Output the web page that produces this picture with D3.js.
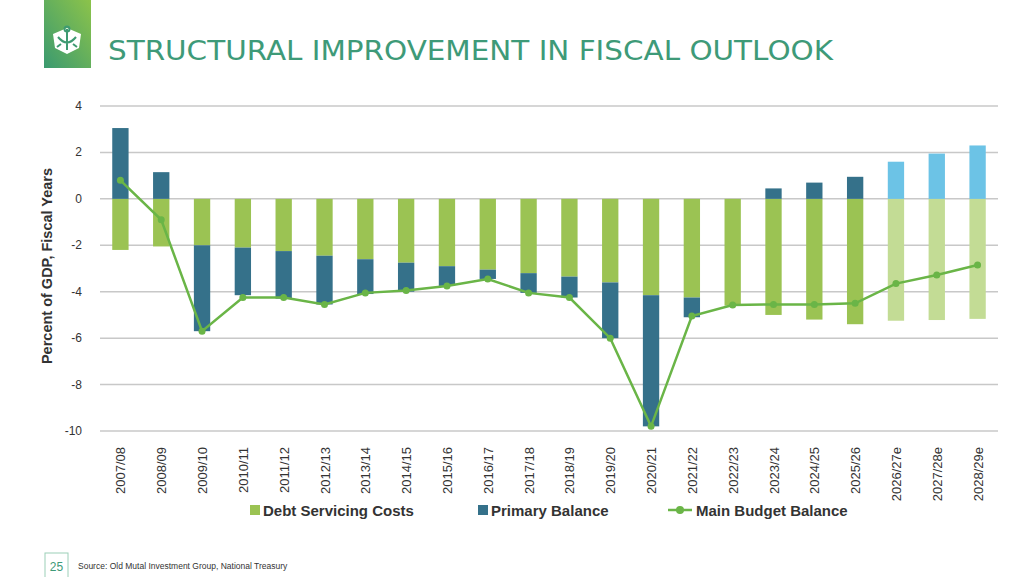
<!DOCTYPE html>
<html><head><meta charset="utf-8">
<script src="https://cdn.jsdelivr.net/npm/d3@7"></script>
<style>body{margin:0;background:#fff}svg{display:block}</style>
</head><body><div id="chart"></div>
<script>
const years = ["2007/08","2008/09","2009/10","2010/11","2011/12","2012/13","2013/14","2014/15","2015/16","2016/17","2017/18","2018/19","2019/20","2020/21","2021/22","2022/23","2023/24","2024/25","2025/26","2026/27e","2027/28e","2028/29e"];
const debtCosts = [-2.2,-2.05,-2.0,-2.1,-2.25,-2.45,-2.6,-2.75,-2.9,-3.05,-3.2,-3.35,-3.6,-4.15,-4.25,-4.6,-5.0,-5.2,-5.4,-5.25,-5.22,-5.17];
const primaryBalance = [3.05,1.15,-3.7,-2.05,-2.05,-2.1,-1.5,-1.25,-0.85,-0.4,-0.85,-0.9,-2.4,-5.65,-0.85,0,0.45,0.7,0.95,1.6,1.95,2.3];
const mainBalance = [0.8,-0.9,-5.7,-4.25,-4.25,-4.55,-4.05,-3.95,-3.75,-3.45,-4.05,-4.25,-6.0,-9.8,-5.05,-4.57,-4.55,-4.55,-4.5,-3.65,-3.28,-2.85];
const yTicks = [4,2,0,-2,-4,-6,-8,-10];
const forecastCount = 3;

const W = 1024, H = 577;
const svg = d3.select("#chart").append("svg").attr("width", W).attr("height", H)
  .style("font-family", "'Liberation Sans', Arial, sans-serif");

// logo block
const grad = svg.append("defs").append("linearGradient").attr("id","lg")
  .attr("x1","0").attr("y1","1").attr("x2","1").attr("y2","0");
grad.append("stop").attr("offset","0").attr("stop-color","#3a9a70");
grad.append("stop").attr("offset","1").attr("stop-color","#8cc34a");
svg.append("rect").attr("x",44).attr("y",0).attr("width",47).attr("height",68).attr("fill","url(#lg)");
const logo = svg.append("g").attr("transform","translate(67,40)");
logo.append("path").attr("d","M-14,-6 L0,-12 L14,-6 L12,8 L0,14 L-12,8 Z").attr("fill","#fff");
logo.append("path").attr("d","M0,-11 L0,10 M-9,-3 Q0,8 9,-3 M-6,4 L-10,7 M6,4 L10,7")
  .attr("fill","none").attr("stroke","#3e9a72").attr("stroke-width",2);
logo.append("circle").attr("cx",0).attr("cy",-11).attr("r",2.5).attr("fill","none").attr("stroke","#3e9a72").attr("stroke-width",2);

svg.append("text").attr("x",108).attr("y",60).attr("fill","#3e9a78")
  .attr("font-family","'DejaVu Sans', sans-serif")
  .attr("font-size",27).attr("textLength",725).attr("lengthAdjust","spacingAndGlyphs")
  .text("STRUCTURAL IMPROVEMENT IN FISCAL OUTLOOK");

const x = d3.scaleBand().domain(years).range([100, 998]).paddingInner(0.6).paddingOuter(0.3);
const y = d3.scaleLinear().domain([-10, 4]).range([431, 106]);

// grid
svg.append("g").selectAll("line").data(yTicks).join("line")
  .attr("x1",100).attr("x2",998).attr("y1",d=>y(d)).attr("y2",d=>y(d))
  .attr("stroke","#c8c8c8").attr("stroke-width",1.5);
svg.append("g").selectAll("text").data(yTicks).join("text")
  .attr("x",82).attr("y",d=>y(d)+4).attr("text-anchor","end")
  .attr("font-size",12).attr("fill","#333").text(d=>d);

svg.append("text").attr("transform","translate(52,266) rotate(-90)")
  .attr("text-anchor","middle").attr("font-size",14.5).attr("font-weight","bold").attr("fill","#333")
  .text("Percent of GDP, Fiscal Years");

const isF = i => i >= years.length - forecastCount;
const bars = svg.append("g");
years.forEach((yr, i) => {
  const d = debtCosts[i], p = primaryBalance[i];
  bars.append("rect").attr("x",x(yr)).attr("width",x.bandwidth())
    .attr("y",y(0)).attr("height",y(d)-y(0)).attr("fill", isF(i) ? "#c3dc95" : "#9bc353");
  if (p !== 0) {
    const base = p > 0 ? 0 : d, top = p > 0 ? p : d + p;
    bars.append("rect").attr("x",x(yr)).attr("width",x.bandwidth())
      .attr("y",y(Math.max(base,top))).attr("height",Math.abs(y(top)-y(base)))
      .attr("fill", isF(i) ? "#6cc3e6" : "#35718a");
  }
});

const cx = yr => x(yr) + x.bandwidth()/2;
svg.append("path").datum(mainBalance)
  .attr("d", d3.line().x((d,i)=>cx(years[i])).y(d=>y(d)))
  .attr("fill","none").attr("stroke","#6ab547").attr("stroke-width",2.5);
svg.append("g").selectAll("circle").data(mainBalance).join("circle")
  .attr("cx",(d,i)=>cx(years[i])).attr("cy",d=>y(d)).attr("r",3.5).attr("fill","#6ab547");

svg.append("g").selectAll("text").data(years).join("text")
  .attr("transform", d => `translate(${cx(d)+5},447) rotate(-90)`)
  .attr("text-anchor","end").attr("font-size",13).attr("fill","#333")
  .text(d=>d);

// legend
const legend = [
  {label:"Debt Servicing Costs", color:"#9bc353", x:250, type:"box"},
  {label:"Primary Balance", color:"#35718a", x:478, type:"box"},
  {label:"Main Budget Balance", color:"#6ab547", x:680, type:"line"}
];
const lg = svg.append("g");
legend.forEach(l => {
  if (l.type === "box") lg.append("rect").attr("x",l.x).attr("y",505).attr("width",10).attr("height",10).attr("fill",l.color);
  else {
    lg.append("line").attr("x1",l.x-12).attr("x2",l.x+12).attr("y1",510).attr("y2",510).attr("stroke",l.color).attr("stroke-width",2.5);
    lg.append("circle").attr("cx",l.x).attr("cy",510).attr("r",4).attr("fill",l.color);
  }
  lg.append("text").attr("x", l.type==="box" ? l.x+13 : l.x+16).attr("y",516)
    .attr("font-size",15).attr("font-weight","bold").attr("fill","#333").text(l.label);
});

// footer
svg.append("rect").attr("x",45).attr("y",553).attr("width",23).attr("height",26).attr("fill","none").attr("stroke","#9ccfb8");
svg.append("text").attr("x",56.5).attr("y",571).attr("text-anchor","middle").attr("font-size",12).attr("fill","#3e9a78").text("25");
svg.append("text").attr("x",78).attr("y",569).attr("font-size",8.5).attr("fill","#333")
  .text("Source: Old Mutal Investment Group, National Treasury");
</script></body></html>
